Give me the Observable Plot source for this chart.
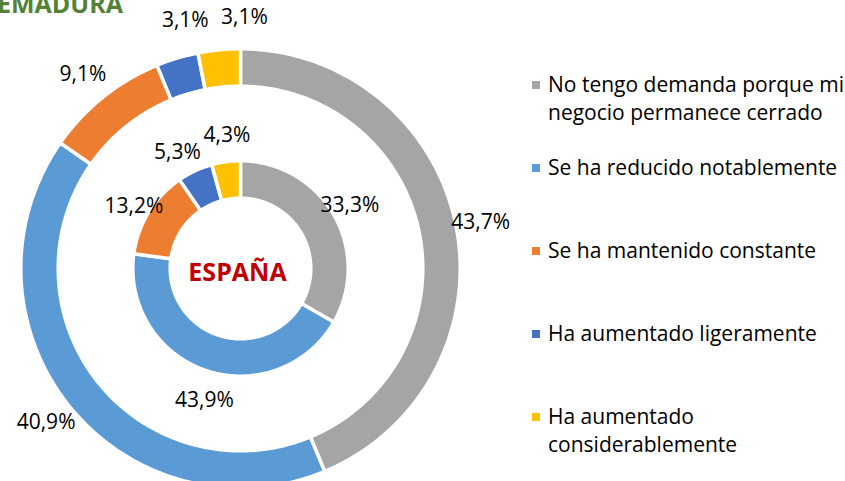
<!DOCTYPE html>
<html>
<head>
<meta charset="utf-8">
<script src="https://cdn.jsdelivr.net/npm/d3@7"></script>
<script src="https://cdn.jsdelivr.net/npm/@observablehq/plot@0.6"></script>
<style>
  html, body { margin: 0; padding: 0; background: #fff; }
  #chart { position: relative; width: 845px; height: 481px; overflow: hidden; }
</style>
</head>
<body>
<div id="chart"></div>
<script>
// ---- data ----
const categories = [
  "No tengo demanda porque mi negocio permanece cerrado",
  "Se ha reducido notablemente",
  "Se ha mantenido constante",
  "Ha aumentado ligeramente",
  "Ha aumentado considerablemente"
];
const legendLines = [
  ["No tengo demanda porque mi", "negocio permanece cerrado"],
  ["Se ha reducido notablemente"],
  ["Se ha mantenido constante"],
  ["Ha aumentado ligeramente"],
  ["Ha aumentado", "considerablemente"]
];
const extremadura = [43.7, 40.9, 9.1, 3.1, 3.1];   // outer ring
const espana = [33.3, 43.9, 13.2, 5.3, 4.3];        // inner ring
const colors = ["#A5A5A5", "#5B9BD5", "#ED7D31", "#4472C4", "#FFC000"];
const outerTitle = "EXTREMADURA";
const innerTitle = "ESPAÑA";

// ---- layout ----
const W = 845, H = 481;
const cx = 240, cy = 268, R = 218;               // pixel center and unit radius
const px = v => v / R;                            // pixels -> units
const rings = [
  {name: "ext", values: extremadura, r0: px(182.3), r1: px(219.7), labelR: px(247),
   nudge: [[-2,-2],[-2,1],[-3,2],[16,12],[28,5]]},
  {name: "esp", values: espana, r0: px(70.3), r1: px(107.7), labelR: px(130),
   nudge: [[-3,-2],[6,-9],[4,-6],[-8,-2],[4,4]]}
];

const points = [];
const labels = [];
for (const ring of rings) {
  const total = d3.sum(ring.values);
  let cum = 0;
  ring.values.forEach((v, i) => {
    const a0 = cum / total * 2 * Math.PI;
    const a1 = (cum + v) / total * 2 * Math.PI;
    const n = Math.max(2, Math.ceil((a1 - a0) / (Math.PI / 180)));
    const key = ring.name + i;
    const outer = [], inner = [];
    for (let k = 0; k <= n; ++k) {
      const t = a0 + (a1 - a0) * k / n;
      outer.push({key, cat: categories[i], x: ring.r1 * Math.sin(t), y: ring.r1 * Math.cos(t)});
      inner.push({key, cat: categories[i], x: ring.r0 * Math.sin(t), y: ring.r0 * Math.cos(t)});
    }
    points.push(...outer, ...inner.reverse());
    const am = (a0 + a1) / 2;
    labels.push({
      x: ring.labelR * Math.sin(am) + px(ring.nudge[i][0]),
      y: ring.labelR * Math.cos(am) + px(ring.nudge[i][1]),
      text: v.toFixed(1).replace(".", ",") + "%"
    });
    cum += v;
  });
}

const plot = Plot.plot({
  width: W,
  height: H,
  margin: 0,
  x: {domain: [-1, 1], range: [cx - R, cx + R], axis: null},
  y: {domain: [-1, 1], range: [cy + R, cy - R], axis: null},
  color: {domain: categories, range: colors},
  style: {background: "#fff", fontFamily: "'Open Sans', sans-serif"},
  marks: [
    Plot.line(points, {x: "x", y: "y", z: "key", fill: "cat", stroke: "white",
      strokeWidth: 3.5, curve: "linear-closed"}),
    Plot.text(labels, {x: "x", y: "y", text: "text", fontSize: 21,
      fontFamily: "'Open Sans', sans-serif", fill: "#000"}),
    Plot.text([innerTitle], {x: 0, y: 0, text: d => d, fontSize: 25, fontWeight: "bold",
      fontFamily: "'Open Sans', sans-serif", fill: "#C00000", dx: -3, dy: 4})
  ]
});

document.getElementById("chart").appendChild(plot);

const svg = d3.select(plot);
// cut-off title at top left (as in the reference)
svg.append("text")
  .attr("x", 123).attr("y", 13)
  .attr("text-anchor", "end")
  .attr("font-family", "'Open Sans', sans-serif")
  .attr("font-size", 25).attr("font-weight", "bold")
  .attr("fill", "#548235")
  .text(outerTitle);

// legend
const lg = svg.append("g")
  .attr("font-family", "'Open Sans', sans-serif")
  .attr("font-size", 21)
  .attr("text-anchor", "start");
legendLines.forEach((lines, i) => {
  const base = 92 + i * 83;
  lg.append("rect").attr("x", 532).attr("y", base - 11).attr("width", 8).attr("height", 8)
    .attr("fill", colors[i]);
  lines.forEach((ln, j) => {
    lg.append("text").attr("x", 548).attr("y", base + j * 28)
      .attr("text-anchor", "start").attr("fill", "#000").text(ln);
  });
});
</script>
</body>
</html>
